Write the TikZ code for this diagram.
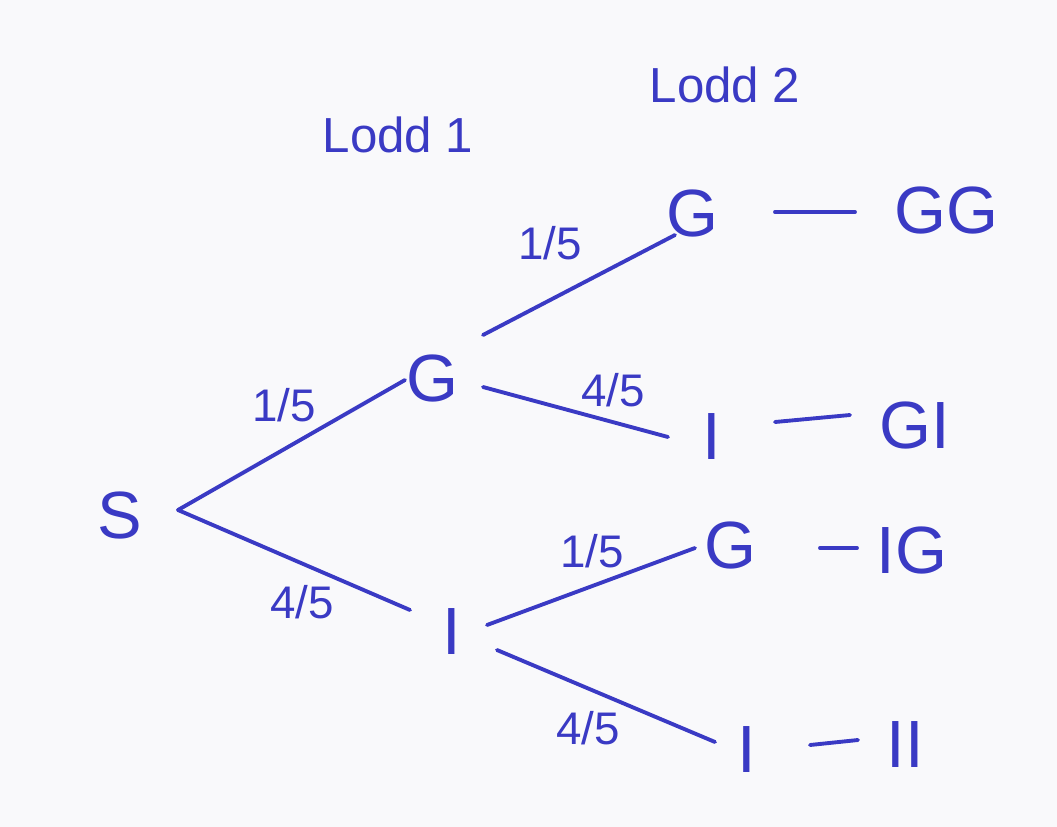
\documentclass[tikz,border=0pt]{standalone}
\usepackage{fontspec}
\setmainfont{Liberation Sans}
\usetikzlibrary{calc}
\definecolor{ink}{RGB}{58,58,196}
\definecolor{paper}{RGB}{249,249,251}
\begin{document}
\begin{tikzpicture}[x=0.01cm,y=-0.01cm,
  every node/.style={text=ink, inner sep=2pt},
  state/.style={font=\fontsize{19}{21}\selectfont, inner sep=6pt},
  leaf/.style={font=\fontsize{19}{21}\selectfont, inner sep=6pt},
  head/.style={font=\fontsize{14}{16}\selectfont},
  prob/.style={font=\fontsize{13}{15}\selectfont},
  branch/.style={draw=ink, line width=1.1pt, line cap=round}]
  % paper
  \fill[paper] (0,0) rectangle (1057,827);
  \useasboundingbox (0,0) rectangle (1057,827);

  % column headings
  \node[head] (h1) at (398,135) {Lodd 1};
  \node[head] (h2) at (725,85) {Lodd 2};

  % tree nodes
  \node[state] (S)   at (120,515) {S};
  \node[state] (G1)  at (432,378) {G};
  \node[state] (I1)  at (452,632) {I};
  \node[state] (G2a) at (692,213) {G};
  \node[state] (I2a) at (712,437) {I};
  \node[state] (G2b) at (730,545) {G};
  \node[state] (I2b) at (747,750) {I};

  % outcomes
  \node[leaf] (GG) at (946,210) {GG};
  \node[leaf] (GI) at (915,425) {GI};
  \node[leaf] (IG) at (912,550) {IG};
  \node[leaf] (II) at (905,745) {II};

  % first draw
  \draw[branch] ($(S)+(58,-5)$) -- ($(G1)+(-27,2)$);
  \draw[branch] ($(S)+(58,-5)$) -- ($(I1)+(-42,-22)$);
  % second draw
  \draw[branch] ($(G1)+(51,-43)$) -- ($(G2a)+(-17,22)$);
  \draw[branch] ($(G1)+(51,9)$) -- ($(I2a)+(-44,0)$);
  \draw[branch] ($(I1)+(35,-7)$) -- ($(G2b)+(-35,3)$);
  \draw[branch] ($(I1)+(45,18)$) -- ($(I2b)+(-32,-8)$);

  % outcome links
  \draw[branch] ($(G2a)+(83,-1)$) -- ($(GG)+(-91,2)$);
  \draw[branch] ($(I2a)+(63,-15)$) -- ($(GI)+(-65,-10)$);
  \draw[branch] ($(G2b)+(90,3)$) -- ($(IG)+(-55,-2)$);
  \draw[branch] ($(I2b)+(63,-5)$) -- ($(II)+(-47,-5)$);

  % probabilities
  \node[prob] (p1) at (284,405) {1/5};
  \node[prob] (p2) at (302,602) {4/5};
  \node[prob] (p3) at (550,243) {1/5};
  \node[prob] (p4) at (613,390) {4/5};
  \node[prob] (p5) at (592,551) {1/5};
  \node[prob] (p6) at (588,728) {4/5};
\end{tikzpicture}
\end{document}
